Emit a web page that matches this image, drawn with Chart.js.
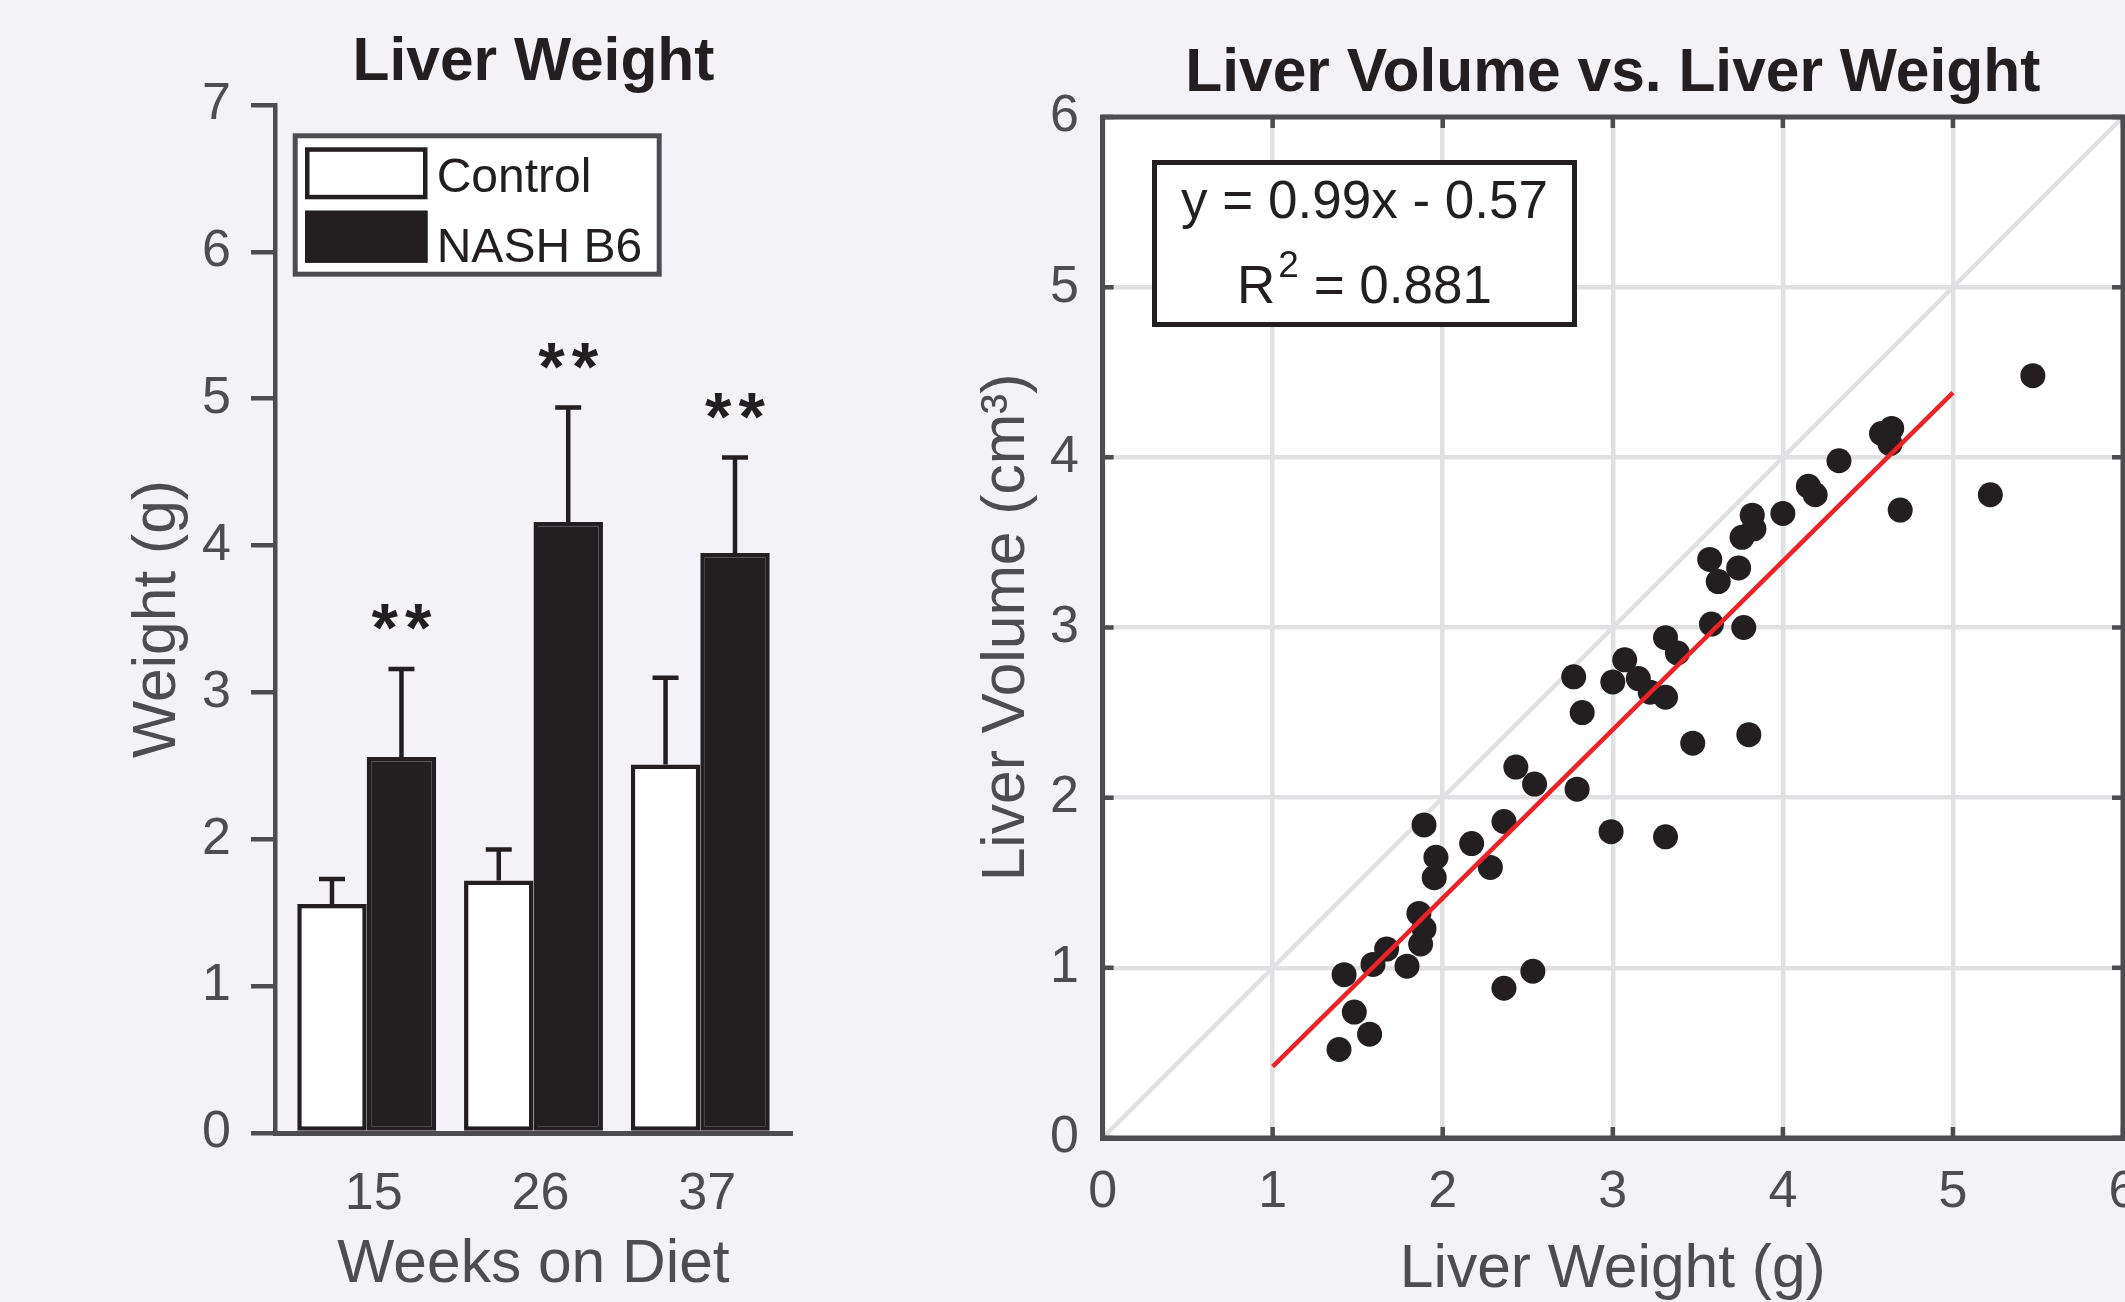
<!DOCTYPE html>
<html>
<head>
<meta charset="utf-8">
<script src="https://cdn.jsdelivr.net/npm/chart.js@4.4.1/dist/chart.umd.min.js"></script>
<style>
  html, body { margin: 0; padding: 0; background: #f3f2f6; overflow: hidden; width: 2125px; height: 1302px; }
  canvas { position: absolute; top: 0; }
  #weightChart { left: 0; }
  #volumeChart { left: 960px; }
</style>
</head>
<body>
<canvas id="weightChart" width="1000" height="1302"></canvas>
<canvas id="volumeChart" width="1240" height="1302"></canvas>
<script>
// ---- bar chart: liver weight by weeks on diet
const weeks = ['15', '26', '37'];
const controlWeight = [1.56, 1.72, 2.51];
const controlErr = [0.17, 0.21, 0.59];
const nashWeight = [2.56, 4.16, 3.95];
const nashErr = [0.60, 0.78, 0.65];
const stars = ['**', '**', '**'];

// ---- scatter: liver volume vs liver weight
const liverWeight = [1.39, 1.48, 1.57, 1.42, 1.59, 1.67, 1.79, 1.87, 1.89, 1.86, 1.95, 1.96, 1.89,
  2.17, 2.28, 2.36, 2.36, 2.53, 2.43, 2.54, 2.79, 2.99, 3.31, 2.77, 2.82, 3.00, 3.07, 3.15, 3.22,
  3.31, 3.31, 3.38, 3.47, 3.80, 3.58, 3.77, 3.57, 3.62, 3.74, 3.76, 3.82, 3.83, 4.00, 4.15, 4.19,
  4.33, 4.58, 4.64, 4.63, 4.69, 5.22, 5.47];
const liverVolume = [0.52, 0.74, 0.61, 0.96, 1.02, 1.11, 1.01, 1.14, 1.23, 1.32, 1.53, 1.65, 1.84,
  1.73, 1.59, 1.86, 0.88, 0.98, 2.18, 2.08, 2.05, 1.80, 1.77, 2.71, 2.50, 2.68, 2.81, 2.70, 2.62,
  2.59, 2.94, 2.85, 2.32, 2.37, 3.02, 3.00, 3.40, 3.27, 3.35, 3.53, 3.66, 3.58, 3.67, 3.83, 3.78,
  3.98, 4.14, 4.17, 4.08, 3.69, 3.78, 4.48];
const fitX = [1, 5];
const fitY = [0.42, 4.38];
const unityX = [0, 6];
const unityY = [0, 6];
const fitLabel = 'y = 0.99x - 0.57';
const r2Value = '0.881';

const ink = '#231f20';
const axisGray = '#4d4d4f';
const gridGray = '#e1e1e3';
const fitRed = '#ec2227';
const family = '"Liberation Sans", Arial, Helvetica, sans-serif';

Chart.defaults.font.family = family;

// error bars (upper half only) + significance stars
const errorBarPlugin = {
  id: 'errorBars',
  afterDatasetsDraw(chart) {
    const { ctx } = chart;
    const y = chart.scales.y;
    ctx.save();
    ctx.strokeStyle = ink;
    ctx.fillStyle = ink;
    ctx.lineWidth = 4.5;
    chart.data.datasets.forEach((ds, di) => {
      const meta = chart.getDatasetMeta(di);
      meta.data.forEach((bar, i) => {
        const v = ds.data[i].y;
        const top = y.getPixelForValue(v + ds.errors[i]);
        ctx.beginPath();
        ctx.moveTo(bar.x, y.getPixelForValue(v));
        ctx.lineTo(bar.x, top);
        ctx.moveTo(bar.x - 13, top);
        ctx.lineTo(bar.x + 13, top);
        ctx.stroke();
        if (ds.marks && ds.marks[i]) {
          const size = 68;
          ctx.font = 'bold ' + size + 'px ' + family;
          ctx.textAlign = 'center';
          ctx.textBaseline = 'alphabetic';
          const cy = top - 57 + 0.58 * size;
          const n = ds.marks[i].length;
          for (let k = 0; k < n; k++) {
            ctx.fillText('*', bar.x + (k - (n - 1) / 2) * 33.7, cy);
          }
        }
      });
    });
    ctx.restore();
  }
};

// boxed legend inside the plot, like the original figure
const boxLegendPlugin = {
  id: 'boxLegend',
  afterDraw(chart) {
    const { ctx, chartArea: ca } = chart;
    const ox = ca.left + 17.7, oy = ca.top + 28.3, ow = 369, oh = 143.4;
    ctx.save();
    ctx.fillStyle = '#ffffff';
    ctx.fillRect(ox, oy, ow, oh);
    ctx.strokeStyle = axisGray;
    ctx.lineWidth = 5;
    ctx.strokeRect(ox + 2.5, oy + 2.5, ow - 5, oh - 5);
    chart.data.datasets.forEach((ds, i) => {
      const sx = ox + 12.3, sy = oy + 14 + i * 63.4, sw = 122.5, sh = 52;
      ctx.fillStyle = ds.backgroundColor;
      ctx.fillRect(sx, sy, sw, sh);
      ctx.strokeStyle = ds.borderColor;
      ctx.lineWidth = 4.5;
      ctx.strokeRect(sx + 2.25, sy + 2.25, sw - 4.5, sh - 4.5);
      ctx.fillStyle = ink;
      ctx.font = '48px ' + family;
      ctx.textAlign = 'left';
      ctx.textBaseline = 'alphabetic';
      ctx.fillText(ds.label, ox + 144, oy + 58.4 + i * 70);
    });
    ctx.restore();
  }
};

new Chart(document.getElementById('weightChart'), {
  type: 'bar',
  data: {
    datasets: [
      {
        label: 'Control',
        data: controlWeight.map((v, i) => ({ x: i + 1, y: v })),
        errors: controlErr,
        backgroundColor: '#ffffff',
        borderColor: ink,
        borderWidth: 4.5,
        borderSkipped: false
      },
      {
        label: 'NASH B6',
        data: nashWeight.map((v, i) => ({ x: i + 1, y: v })),
        errors: nashErr,
        marks: stars,
        backgroundColor: ink,
        borderColor: ink,
        borderWidth: 4.5,
        borderSkipped: false
      }
    ]
  },
  options: {
    responsive: false,
    animation: false,
    categoryPercentage: 0.833,
    barPercentage: 1,
    layout: { padding: { left: 100, right: 208, top: 0, bottom: 0 } },
    plugins: {
      legend: { display: false },
      tooltip: { enabled: false },
      title: {
        display: true,
        fullSize: false,
        text: 'Liver Weight',
        color: ink,
        font: { size: 60.5, weight: 'bold', lineHeight: 1.2 },
        padding: { top: 26.7, bottom: 5.7 }
      }
    },
    scales: {
      x: {
        type: 'linear',
        offset: false,
        min: 0.45,
        max: 3.55,
        afterBuildTicks: s => { s.ticks = weeks.map((w, i) => ({ value: i + 1 })); },
        ticks: {
          callback: v => weeks[Math.round(v) - 1],
          color: axisGray,
          font: { size: 52, lineHeight: 1 },
          padding: 28,
          labelOffset: 7,
          maxRotation: 0
        },
        grid: { display: false },
        border: { display: true, color: axisGray, width: 5 },
        title: {
          display: true,
          text: 'Weeks on Diet',
          color: axisGray,
          font: { size: 60.5, lineHeight: 1 },
          padding: { top: 0, bottom: 6.75 }
        },
        afterFit: s => { s.height = 169; s.paddingLeft = 0; s.paddingRight = 0; }
      },
      y: {
        min: 0,
        max: 7,
        ticks: { stepSize: 1, color: axisGray, font: { size: 52 }, padding: 20 },
        grid: { drawOnChartArea: false, drawTicks: true, tickLength: 24, color: axisGray, lineWidth: 4.5 },
        border: { display: true, color: axisGray, width: 4.5 },
        title: {
          display: true,
          text: 'Weight (g)',
          color: axisGray,
          font: { size: 60.5, lineHeight: 1 },
          padding: { top: 28, bottom: 0 }
        },
        afterFit: s => { s.width = 175; s.paddingTop = 0; s.paddingBottom = 0; }
      }
    }
  },
  plugins: [errorBarPlugin, boxLegendPlugin]
});

// white axes background, full box, inward ticks and the fit text box
const plotFramePlugin = {
  id: 'plotFrame',
  beforeDraw(chart) {
    const { ctx, chartArea: ca } = chart;
    ctx.save();
    ctx.fillStyle = '#ffffff';
    ctx.fillRect(ca.left, ca.top, ca.width, ca.height);
    ctx.restore();
  },
  afterDatasetsDraw(chart) {
    const { ctx, chartArea: ca, scales } = chart;
    ctx.save();
    ctx.strokeStyle = axisGray;
    ctx.lineWidth = 4.5;
    ctx.beginPath();
    scales.x.ticks.forEach(t => {
      const px = scales.x.getPixelForValue(t.value);
      ctx.moveTo(px, ca.bottom); ctx.lineTo(px, ca.bottom - 11);
      ctx.moveTo(px, ca.top); ctx.lineTo(px, ca.top + 11);
    });
    scales.y.ticks.forEach(t => {
      const py = scales.y.getPixelForValue(t.value);
      ctx.moveTo(ca.left, py); ctx.lineTo(ca.left + 11, py);
      ctx.moveTo(ca.right, py); ctx.lineTo(ca.right - 11, py);
    });
    ctx.stroke();
    ctx.lineWidth = 5;
    ctx.strokeRect(ca.left, ca.top, ca.width, ca.height);

    // equation box
    const bx = ca.left + 49.4, by = ca.top + 43, bw = 425, bh = 167;
    ctx.fillStyle = '#ffffff';
    ctx.fillRect(bx, by, bw, bh);
    ctx.strokeStyle = ink;
    ctx.strokeRect(bx + 2.5, by + 2.5, bw - 5, bh - 5);
    const cx = bx + bw / 2;
    ctx.fillStyle = ink;
    ctx.textBaseline = 'alphabetic';
    ctx.font = '53px ' + family;
    ctx.textAlign = 'center';
    ctx.fillText(fitLabel, cx, ca.top + 101.3);
    ctx.textAlign = 'left';
    const rest = ' = ' + r2Value;
    const wR = ctx.measureText('R').width;
    const wRest = ctx.measureText(rest).width;
    ctx.font = '37px ' + family;
    const w2 = ctx.measureText('2').width;
    const x0 = cx - (wR + 3 + w2 + wRest) / 2;
    const base = ca.top + 186.3;
    ctx.font = '53px ' + family;
    ctx.fillText('R', x0, base);
    ctx.font = '37px ' + family;
    ctx.fillText('2', x0 + wR + 3, base - 26.6);
    ctx.font = '53px ' + family;
    ctx.fillText(rest, x0 + wR + 3 + w2, base);
    ctx.restore();
  }
};

new Chart(document.getElementById('volumeChart'), {
  type: 'scatter',
  data: {
    datasets: [
      {
        type: 'line',
        label: 'Fit',
        data: fitX.map((x, i) => ({ x: x, y: fitY[i] })),
        borderColor: fitRed,
        borderWidth: 4.5,
        pointRadius: 0,
        showLine: true,
        order: 0
      },
      {
        label: 'Liver',
        data: liverWeight.map((x, i) => ({ x: x, y: liverVolume[i] })),
        backgroundColor: ink,
        pointBackgroundColor: ink,
        pointRadius: 12.5,
        pointBorderWidth: 0,
        order: 1
      },
      {
        type: 'line',
        label: 'Identity',
        data: unityX.map((x, i) => ({ x: x, y: unityY[i] })),
        borderColor: gridGray,
        borderWidth: 4.5,
        pointRadius: 0,
        showLine: true,
        order: 2
      }
    ]
  },
  options: {
    responsive: false,
    animation: false,
    layout: { padding: { left: 10, right: 77, top: 0, bottom: 0 } },
    plugins: {
      legend: { display: false },
      tooltip: { enabled: false },
      title: {
        display: true,
        fullSize: false,
        text: 'Liver Volume vs. Liver Weight',
        color: ink,
        font: { size: 60.5, weight: 'bold', lineHeight: 1.2 },
        padding: { top: 37.7, bottom: 6.7 }
      }
    },
    scales: {
      x: {
        type: 'linear',
        min: 0,
        max: 6,
        ticks: { stepSize: 1, color: axisGray, font: { size: 52, lineHeight: 1 }, padding: 28.5, maxRotation: 0 },
        grid: { color: gridGray, lineWidth: 4.5, drawTicks: false },
        border: { display: true, color: axisGray, width: 5 },
        title: {
          display: true,
          text: 'Liver Weight (g)',
          color: axisGray,
          font: { size: 60.5, lineHeight: 1 },
          padding: { top: 0, bottom: 1.75 }
        },
        afterFit: s => { s.height = 164; s.paddingLeft = 0; s.paddingRight = 0; }
      },
      y: {
        type: 'linear',
        min: 0,
        max: 6,
        ticks: { stepSize: 1, color: axisGray, font: { size: 52 }, padding: 23.6 },
        grid: { color: gridGray, lineWidth: 4.5, drawTicks: false },
        border: { display: true, color: axisGray, width: 5 },
        title: {
          display: true,
          text: 'Liver Volume (cm³)',
          color: axisGray,
          font: { size: 60.5, lineHeight: 1 },
          padding: { top: 7.25, bottom: 0 }
        },
        afterFit: s => { s.width = 132.6; s.paddingTop = 0; s.paddingBottom = 0; }
      }
    }
  },
  plugins: [plotFramePlugin]
});
</script>
</body>
</html>
